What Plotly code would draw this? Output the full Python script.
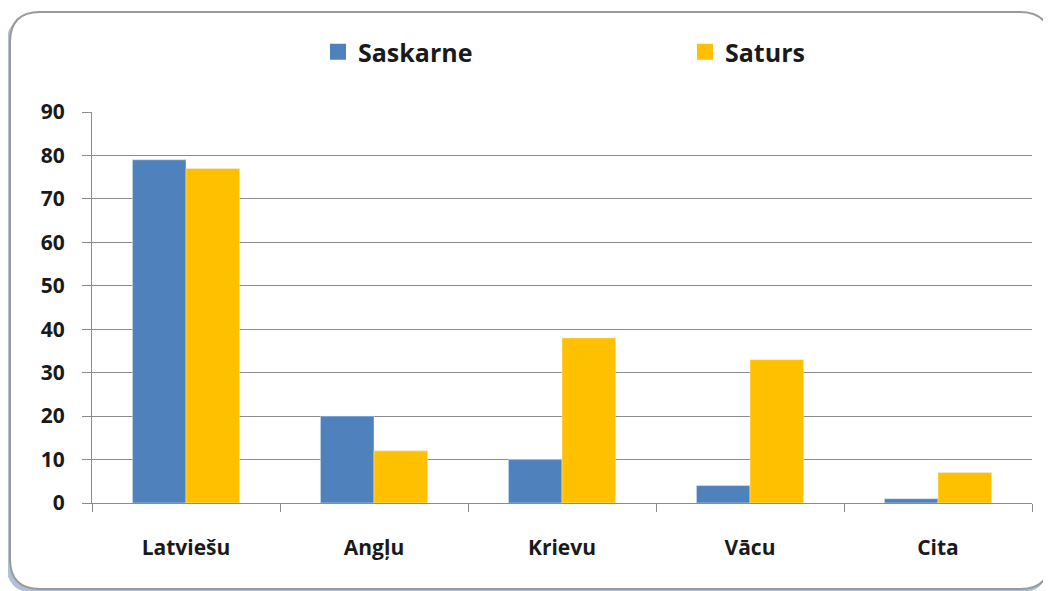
import plotly.graph_objects as go

categories = ["Latviešu", "Angļu", "Krievu", "Vācu", "Cita"]
saskarne = [79, 20, 10, 4, 1]
saturs = [77, 12, 38, 33, 7]
y_ticks = [0, 10, 20, 30, 40, 50, 60, 70, 80, 90]

# page body has an 8px margin; work in screen pixels and shift
OFF = 8
W, H = 1051 - OFF, 591 - OFF
L, R, T, B = 92 - OFF, 1032 - OFF, 112 - OFF, 503 - OFF

def fx(sx):
    return (sx - OFF - L) / (R - L)

def fy(sy):
    return (B - (sy - OFF)) / (B - T)

def rounded(x0, y0, x1, y1, r):
    return (f"M {fx(x0 + r)} {fy(y0)} L {fx(x1 - r)} {fy(y0)} "
            f"Q {fx(x1)} {fy(y0)} {fx(x1)} {fy(y0 + r)} "
            f"L {fx(x1)} {fy(y1 - r)} Q {fx(x1)} {fy(y1)} {fx(x1 - r)} {fy(y1)} "
            f"L {fx(x0 + r)} {fy(y1)} Q {fx(x0)} {fy(y1)} {fx(x0)} {fy(y1 - r)} "
            f"L {fx(x0)} {fy(y0 + r)} Q {fx(x0)} {fy(y0)} {fx(x0 + r)} {fy(y0)} Z")

BLUE, YELLOW = "#4F81BD", "#FFC000"

fig = go.Figure()
fig.add_trace(go.Bar(name="Saskarne", x=categories, y=saskarne, marker_color=BLUE, showlegend=False))
fig.add_trace(go.Bar(name="Saturs", x=categories, y=saturs, marker_color=YELLOW, showlegend=False))
fig.add_trace(go.Scatter(name="Saskarne", x=[None], y=[None], mode="markers",
                         marker=dict(symbol="square", size=16, color=BLUE)))
fig.add_trace(go.Scatter(name="Saturs", x=[None], y=[None], mode="markers",
                         marker=dict(symbol="square", size=16, color=YELLOW)))

font_family = "Open Sans"
fig.update_layout(
    width=W, height=H,
    margin=dict(l=L, r=W - R, t=T, b=H - B, autoexpand=False),
    paper_bgcolor="white",
    plot_bgcolor="rgba(0,0,0,0)",
    barmode="group",
    bargap=0.43,
    bargroupgap=0,
    font=dict(family=font_family, color="#1a1a1a"),
    legend=dict(orientation="h", x=fx(318), xanchor="left", y=fy(52), yanchor="middle",
                font=dict(size=25, family=font_family, weight="bold", color="#1a1a1a"),
                entrywidth=322, entrywidthmode="pixels", bgcolor="rgba(0,0,0,0)"),
    shapes=[
        dict(type="path", xref="paper", yref="paper", layer="below",
             path=rounded(6, 16, 1048, 593, 30),
             fillcolor="#AFC0D8", line=dict(width=0)),
        dict(type="path", xref="paper", yref="paper", layer="below",
             path=rounded(10, 12, 1050, 589, 30),
             fillcolor="white", line=dict(color="#9a9a9a", width=2)),
    ],
)
fig.update_xaxes(
    showline=True, linecolor="#8c8c8c", linewidth=1,
    ticks="outside", tickson="boundaries", ticklen=8, tickcolor="#8c8c8c",
    tickfont=dict(size=21, family=font_family, weight="bold", color="#1a1a1a"),
    ticklabelstandoff=26,
)
fig.update_yaxes(
    range=[0, 90], tickvals=y_ticks,
    showline=True, linecolor="#8c8c8c", linewidth=1,
    showgrid=True, gridcolor="#8c8c8c", gridwidth=1,
    ticks="outside", ticklen=9, tickcolor="#8c8c8c",
    tickfont=dict(size=21, family=font_family, weight="bold", color="#1a1a1a"),
    ticklabelstandoff=13, zeroline=False,
)
fig.write_html("out.html")
